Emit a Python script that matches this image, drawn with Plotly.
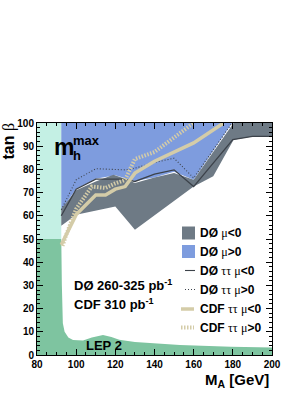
import plotly.graph_objects as go

# ---------------- data ----------------
# LEP 2 excluded region (green)
lep_x = [80, 92.4, 92.7, 93.2, 94.1, 96, 98.4, 103.5, 108, 113.7, 118, 122, 130, 153, 179, 200, 200, 80]
lep_y = [50, 50, 30, 13.7, 10, 7.5, 6.5, 6.2, 7.5, 8.6, 7.8, 6.6, 5.6, 4.3, 3.6, 3.2, 0, 0]
# theoretically inaccessible region (cyan)
cyan_x = [80, 92.4, 92.4, 80]
cyan_y = [50, 50, 100, 100]
# DØ mu>0 excluded (blue)
blue_x = [92.4, 100, 110, 120, 130, 140, 150, 160, 179.6, 92.4]
blue_y = [62.5, 71.5, 76, 77.5, 75, 76.5, 79, 75.5, 100, 100]
# DØ mu<0 excluded (gray)
gray_x = [92.4, 100, 110, 119, 125, 130, 140, 150, 160, 180.4, 200, 200, 190, 180.4, 170, 160, 130, 120, 100, 92.4]
gray_y = [63, 71, 74.8, 77.7, 76, 74.1, 76.5, 78.5, 75.5, 100, 100, 94.2, 94.2, 92.8, 77, 72.6, 54, 64, 60.4, 55.7]
# DØ tautau mu<0 (solid)
d0tt_neg_x = [92.4, 100, 110, 120, 125, 130, 140, 150, 160, 180, 190, 200]
d0tt_neg_y = [60, 71.5, 75.8, 75.8, 75.8, 74.8, 78, 79.8, 72.6, 92.8, 94.2, 94.2]
# DØ tautau mu>0 (dotted)
d0tt_pos_x = [92.4, 100, 110, 125, 130, 140, 150, 160, 179.6]
d0tt_pos_y = [62.6, 75.5, 80.3, 79.8, 80.5, 83, 84.8, 76.3, 100]
# CDF tautau mu<0 (thick beige)
cdf_neg_x = [92.4, 95, 100, 110, 115, 120, 125, 130, 140, 160, 175.3]
cdf_neg_y = [47.5, 52, 60.5, 69, 69, 71.5, 72.6, 78.4, 83.5, 91.4, 100]
# CDF tautau mu>0 (thick beige dotted)
cdf_pos_x = [93, 95, 100, 108, 115, 120, 125, 130, 140, 160]
cdf_pos_y = [47, 52, 63, 72.6, 72, 74, 75.5, 84.5, 87.5, 100]

x_ticks = [80, 100, 120, 140, 160, 180, 200]
y_ticks = [0, 10, 20, 30, 40, 50, 60, 70, 80, 90, 100]

legend_labels = ["DØ μ<0", "DØ μ>0", "DØ ττ μ<0", "DØ ττ μ>0", "CDF ττ μ<0", "CDF ττ μ>0"]

# ---------------- style ----------------
C_CYAN = "rgb(196,240,228)"
C_GREEN = "rgb(126,196,160)"
C_BLUE = "rgb(126,156,222)"
C_GRAY = "rgb(110,122,133)"
C_DARK = "rgb(60,66,74)"
C_BEIGE = "rgb(212,204,168)"
FONT = "Liberation Sans, Arial, sans-serif"
SERIF = "Liberation Serif"

W, H = 308, 398
ML, MR, MT, MB = 37, 36, 123, 43

fig = go.Figure()

def area(x, y, color):
    fig.add_trace(go.Scatter(x=x, y=y, fill="toself", fillcolor=color, mode="lines",
                             line=dict(width=0, color=color), hoverinfo="skip", showlegend=False))

area(cyan_x, cyan_y, C_CYAN)
area(lep_x, lep_y, C_GREEN)
area(blue_x, blue_y, C_BLUE)
area(gray_x, gray_y, C_GRAY)

DOT_DARK = "1px,2px"
DOT_BEIGE = "1.5px,1.5px"

def line(x, y, color, width, dash):
    fig.add_trace(go.Scatter(x=x, y=y, mode="lines", line=dict(color=color, width=width, dash=dash),
                             hoverinfo="skip", showlegend=False))

line(d0tt_pos_x, d0tt_pos_y, C_DARK, 1.1, DOT_DARK)
line(d0tt_neg_x, d0tt_neg_y, C_DARK, 1.3, "solid")
line(cdf_neg_x, cdf_neg_y, C_BEIGE, 3.5, "solid")
line(cdf_pos_x, cdf_pos_y, C_BEIGE, 4, DOT_BEIGE)

axis_common = dict(showgrid=False, zeroline=False, showline=True, linecolor="black", linewidth=1,
                   mirror="ticks", ticks="inside", tickcolor="black", ticklen=6, tickwidth=1,
                   tickfont=dict(family=FONT, size=10, color="black", weight="bold"))

fig.update_xaxes(range=[80, 200], tickvals=x_ticks, ticktext=[str(v) for v in x_ticks],
                 minor=dict(dtick=5, ticks="inside", ticklen=3, tickcolor="black", tick0=80),
                 **axis_common)
fig.update_yaxes(range=[0, 100], tickvals=y_ticks, ticktext=[str(v) for v in y_ticks],
                 minor=dict(dtick=2, ticks="inside", ticklen=3, tickcolor="black", tick0=0),
                 **axis_common)

pw = W - ML - MR
ph = H - MT - MB

def px2paper(px, py):
    # screen pixel -> paper coords
    return (px - ML) / pw, (H - MB - py) / ph

ann = []
def text(t, x, y, size, xanchor="left", xref="x", yref="y", angle=0):
    ann.append(dict(text=t, x=x, y=y, xref=xref, yref=yref, showarrow=False, xanchor=xanchor,
                    yanchor="middle", textangle=angle,
                    font=dict(family=FONT, size=size, color="black")))

def sym(s):
    return "<span style=\"font-family:'%s';font-weight:normal\">%s</span>" % (SERIF, s)

# m_h^max label
text("<b>m</b>", 87.8, 89.5, 23)
text("<b>max</b>", 97.4, 92.6, 13)
text("<b>h</b>", 97.4, 86.0, 13)
# luminosity text
text("<b>DØ 260-325 pb<sup>-1</sup></b>", 98.0, 30.2, 13)
text("<b>CDF 310 pb<sup>-1</sup></b>", 98.0, 22.0, 13)
text("<b>LEP 2</b>", 114.3, 3.9, 13, xanchor="center")

# axis titles
xp, yp = px2paper(271, 380)
text("<b>M<sub>A</sub> [GeV]</b>", xp, yp, 15, xanchor="right", xref="paper", yref="paper")
xp, yp = px2paper(8.5, 141)
text("<b>tan</b> " + sym("β"), xp, yp, 16, xanchor="center", xref="paper", yref="paper", angle=-90)

# legend (manual)
rows = [233, 251.5, 270.5, 289.5, 309, 327.5]
shapes = []
def fmt(lbl):
    parts = lbl.split(" ")
    out = []
    for p in parts:
        if p.startswith("μ"):
            out.append(sym("μ") + "<b>" + p[1:].replace("<", "&lt;").replace(">", "&gt;") + "</b>")
        elif p == "ττ":
            out.append(sym("ττ"))
        else:
            out.append("<b>" + p + "</b>")
    return " ".join(out)

for i, (lbl, ry) in enumerate(zip(legend_labels, rows)):
    if i < 2:
        x0, y0 = px2paper(182, ry - 6.5)
        x1, y1 = px2paper(195, ry + 6.5)
        shapes.append(dict(type="rect", xref="paper", yref="paper", x0=x0, x1=x1, y0=y0, y1=y1,
                           fillcolor=C_GRAY if i == 0 else C_BLUE, line=dict(width=0)))
    else:
        if i < 4:
            xa, ya = px2paper(185, ry)
            xb, _ = px2paper(195, ry)
            st = dict(color=C_DARK, width=1.1, dash="solid" if i == 2 else DOT_DARK)
        else:
            xa, ya = px2paper(181, ry)
            xb, _ = px2paper(194, ry)
            st = dict(color=C_BEIGE, width=4 if i == 5 else 3.5, dash="solid" if i == 4 else DOT_BEIGE)
        shapes.append(dict(type="line", xref="paper", yref="paper", x0=xa, x1=xb, y0=ya, y1=ya, line=st))
    tx, ty = px2paper(198, ry)
    text(fmt(lbl), tx, ty, 12, xref="paper", yref="paper")

fig.update_layout(width=W, height=H, margin=dict(l=ML, r=MR, t=MT, b=MB),
                  plot_bgcolor="white", paper_bgcolor="white",
                  annotations=ann, shapes=shapes, showlegend=False)

fig.write_html("out.html", config={"displayModeBar": False},
               post_script="document.body.style.margin='0';document.body.style.overflow='hidden';")
